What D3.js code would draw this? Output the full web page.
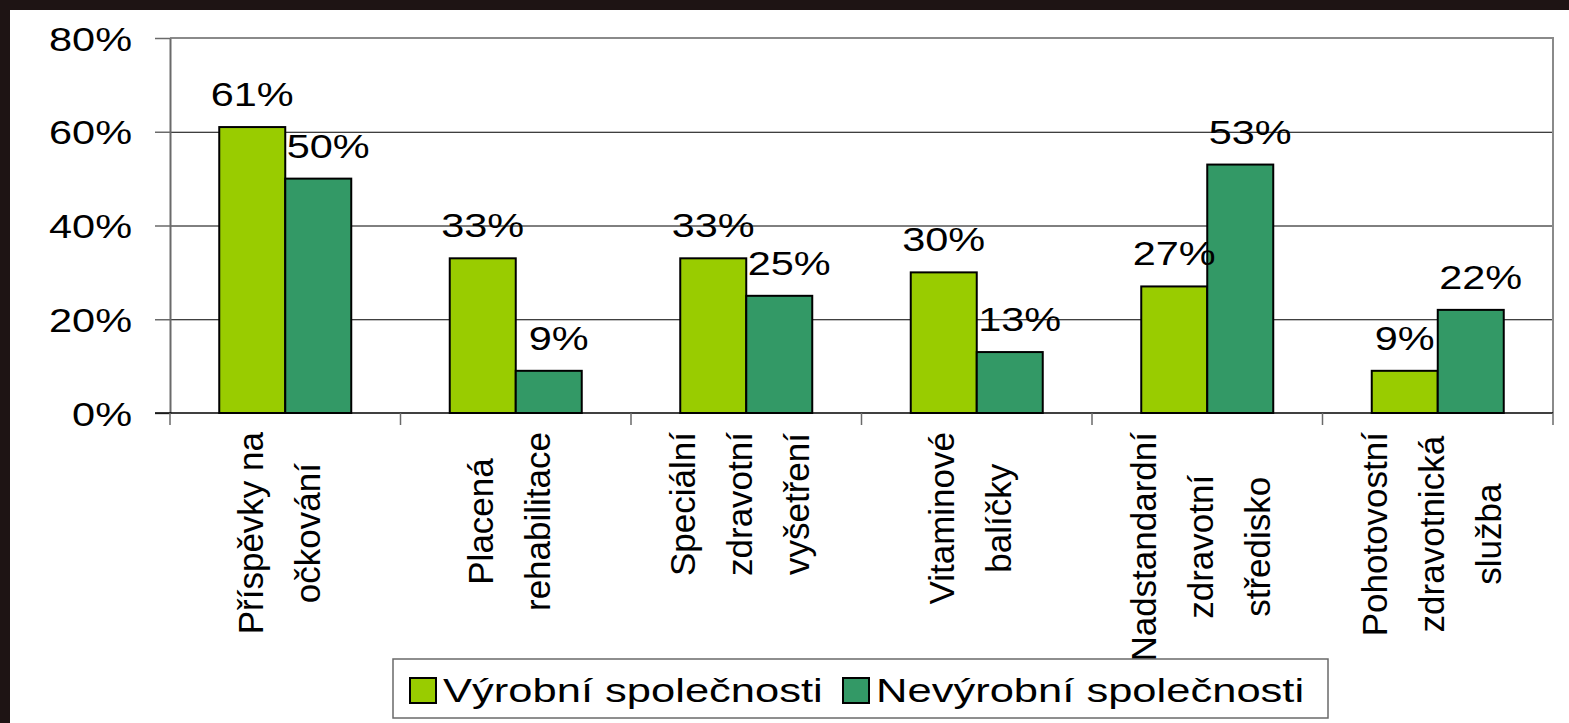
<!DOCTYPE html>
<html>
<head>
<meta charset="utf-8">
<script src="https://cdn.jsdelivr.net/npm/d3@7"></script>
<style>
  body { margin: 0; background: #fff; }
  svg text { font-family: "Liberation Sans", Arial, sans-serif; fill: #000; }
</style>
</head>
<body>
<script>
// chart data
var categories = [
  ["Příspěvky na", "očkování"],
  ["Placená", "rehabilitace"],
  ["Speciální", "zdravotní", "vyšetření"],
  ["Vitaminové", "balíčky"],
  ["Nadstandardní", "zdravotní", "středisko"],
  ["Pohotovostní", "zdravotnická", "služba"]
];
var seriesNames = ["Výrobní společnosti", "Nevýrobní společnosti"];
var vyrobni = [0.61, 0.33, 0.33, 0.30, 0.27, 0.09];
var nevyrobni = [0.50, 0.09, 0.25, 0.13, 0.53, 0.22];
var yTicks = [0, 0.2, 0.4, 0.6, 0.8];
var colors = ["#99cc00", "#339966"];

var W = 1569, H = 723
  , margin = {top: 38, left: 170, right: 16, bottom: 310}
  , plotW = W - margin.left - margin.right
  , plotH = H - margin.top - margin.bottom
  , stretch = 1.22; // text in the picture is wider than it is tall

var svgm = d3.select('body').append('svg').attr('width', W).attr('height', H);
// dark frame on top / left
svgm.append('rect').attr('width', W).attr('height', H).attr('fill', '#1e1414');
svgm.append('rect').attr('x', 10).attr('y', 10).attr('width', W - 10).attr('height', H - 10).attr('fill', '#fff');

var svg = svgm.append('g').attr('transform', `translate(${margin.left},${margin.top})`);

var catKeys = categories.map(function(d) { return d.join(' '); });
var x = d3.scaleBand().domain(catKeys).range([0, plotW]).padding(0)
  , barW = 66
  , xs = d3.scaleBand().domain(seriesNames).range([0, barW * 2])
  , y = d3.scaleLinear().domain([0, 0.8]).range([plotH, 0]);

// gridlines
svg.append('g').selectAll('line').data(yTicks.filter(function(t) { return t > 0 && t < 0.8; }))
  .enter().append('line')
  .attr('x1', 0).attr('x2', plotW)
  .attr('y1', function(d) { return y(d) + 0.5; }).attr('y2', function(d) { return y(d) + 0.5; })
  .attr('stroke', '#000').attr('stroke-width', 1);

// plot frame (top & right) in grey
svg.append('path').attr('d', `M0,${y(0.8)}H${plotW}V${plotH}`)
  .attr('fill', 'none').attr('stroke', '#8a8a8a').attr('stroke-width', 2);

// y axis
var yAxis = d3.axisLeft(y).tickValues(yTicks).tickFormat(d3.format('.0%')).tickSize(15).tickSizeOuter(0);
var gy = svg.append('g').call(yAxis);
gy.select('.domain').attr('stroke', '#6a6a6a').attr('stroke-width', 2);
gy.selectAll('.tick line').attr('stroke', '#6a6a6a').attr('stroke-width', 1.5);
gy.selectAll('.tick text')
  .attr('font-size', 34).attr('x', -38 / stretch).attr('dy', '0.36em')
  .attr('transform', `scale(${stretch},1)`)
  .attr('font-family', '"Liberation Sans", Arial, sans-serif');

// bars
var groups = svg.append('g').selectAll('g').data(catKeys).enter().append('g')
  .attr('transform', function(d) { return `translate(${x(d) + x.bandwidth() / 2 - barW},0)`; });

var rows = function(i) {
  return [
    {s: seriesNames[0], v: vyrobni[i], c: colors[0], dx: 0},
    {s: seriesNames[1], v: nevyrobni[i], c: colors[1], dx: 10}
  ];
};

groups.selectAll('rect').data(function(d, i) { return rows(i); }).enter().append('rect')
  .attr('x', function(d) { return xs(d.s); })
  .attr('y', function(d) { return y(d.v); })
  .attr('width', xs.bandwidth())
  .attr('height', function(d) { return y(0) - y(d.v); })
  .attr('fill', function(d) { return d.c; })
  .attr('stroke', '#000').attr('stroke-width', 2);

groups.selectAll('text').data(function(d, i) { return rows(i); }).enter().append('text')
  .attr('text-anchor', 'middle').attr('font-size', 34)
  .attr('transform', function(d) {
    return `translate(${xs(d.s) + xs.bandwidth() / 2 + d.dx},${y(d.v) - 21}) scale(${stretch},1)`;
  })
  .text(function(d) { return d3.format('.0%')(d.v); });

// x axis line & category ticks
svg.append('line').attr('x1', -15).attr('x2', plotW).attr('y1', plotH).attr('y2', plotH)
  .attr('stroke', '#000').attr('stroke-width', 1.5);
var bounds = catKeys.map(function(d) { return x(d); }).concat([plotW]);
svg.append('g').selectAll('line').data(bounds).enter().append('line')
  .attr('x1', function(d) { return d; }).attr('x2', function(d) { return d; })
  .attr('y1', plotH).attr('y2', plotH + 12)
  .attr('stroke', '#6a6a6a').attr('stroke-width', 1.5);

// rotated category labels
var lineGap = 57, labelTop = plotH + 19;
categories.forEach(function(lines, i) {
  var cx = x(catKeys[i]) + x.bandwidth() / 2 - 6;
  var texts = lines.map(function(t) {
    return svg.append('text').attr('font-size', 35).attr('text-anchor', 'middle').text(t);
  });
  var maxLen = d3.max(texts, function(t) { return t.node().getComputedTextLength(); });
  texts.forEach(function(t, j) {
    var bx = cx + (j - (lines.length - 1) / 2) * lineGap + 12;
    t.attr('transform', `translate(${bx},${labelTop + maxLen / 2}) rotate(-90)`);
  });
});

// legend
var legend = svgm.append('g').attr('transform', 'translate(393,659)');
legend.append('rect').attr('width', 935).attr('height', 59)
  .attr('fill', '#fff').attr('stroke', '#6a6a6a').attr('stroke-width', 1.5);
var legX = [17, 450];
seriesNames.forEach(function(name, i) {
  legend.append('rect').attr('x', legX[i]).attr('y', 19).attr('width', 26).attr('height', 25)
    .attr('fill', colors[i]).attr('stroke', '#000').attr('stroke-width', 2);
  legend.append('text').attr('font-size', 34)
    .attr('transform', `translate(${legX[i] + 33},43) scale(1.28,1)`)
    .text(name);
});
</script>
</body>
</html>
